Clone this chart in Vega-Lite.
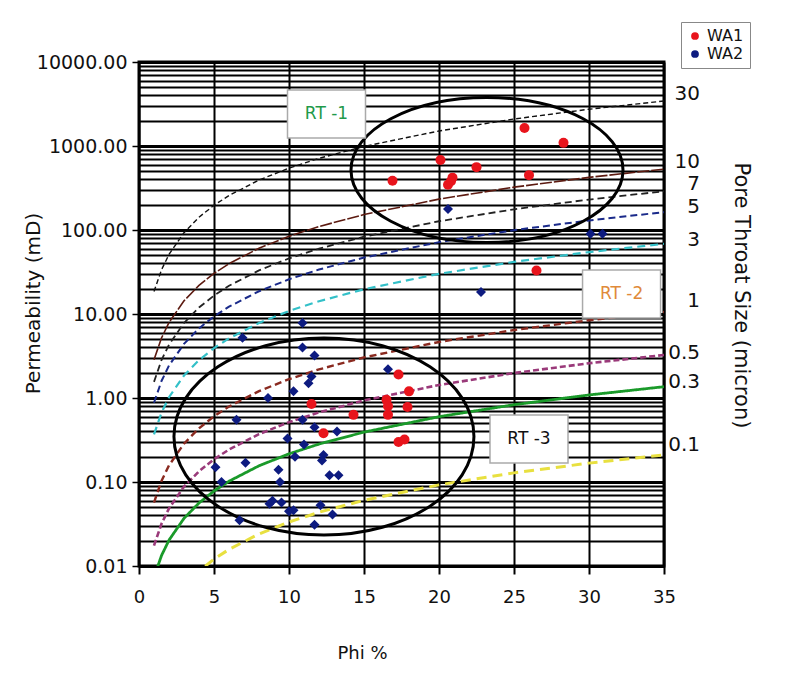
{
  "$schema": "https://vega.github.io/schema/vega-lite/v6.json",
  "width": 525,
  "height": 504,
  "autosize": {"type": "none"},
  "padding": {"left": 139, "top": 62, "right": 147, "bottom": 118},
  "background": "white",
  "config": {
    "font": "DejaVu Sans",
    "view": {"stroke": "black", "strokeWidth": 3},
    "axis": {"labelFont": "DejaVu Sans", "titleFont": "DejaVu Sans", "labelColor": "#111111", "titleColor": "#111111", "titleFontWeight": "normal"},
    "legend": {"labelFont": "DejaVu Sans"}
  },
  "datasets": {
    "curves": [
      {"r": "30", "phi": 1, "k": 18.5}, {"r": "30", "phi": 1.5, "k": 33.57}, {"r": "30", "phi": 2, "k": 51.23}, {"r": "30", "phi": 3, "k": 92.94}, {"r": "30", "phi": 4, "k": 141.9}, {"r": "30", "phi": 5, "k": 196.9}, {"r": "30", "phi": 6, "k": 257.3}, {"r": "30", "phi": 8, "k": 392.8}, {"r": "30", "phi": 10, "k": 545.3}, {"r": "30", "phi": 12, "k": 712.6}, {"r": "30", "phi": 15, "k": 989.2}, {"r": "30", "phi": 20, "k": 1510}, {"r": "30", "phi": 25, "k": 2096}, {"r": "30", "phi": 30, "k": 2740}, {"r": "30", "phi": 35, "k": 3435},
      {"r": "10", "phi": 1, "k": 2.856}, {"r": "10", "phi": 1.5, "k": 5.183}, {"r": "10", "phi": 2, "k": 7.909}, {"r": "10", "phi": 3, "k": 14.35}, {"r": "10", "phi": 4, "k": 21.9}, {"r": "10", "phi": 5, "k": 30.4}, {"r": "10", "phi": 6, "k": 39.73}, {"r": "10", "phi": 8, "k": 60.64}, {"r": "10", "phi": 10, "k": 84.17}, {"r": "10", "phi": 12, "k": 110.0}, {"r": "10", "phi": 15, "k": 152.7}, {"r": "10", "phi": 20, "k": 233.1}, {"r": "10", "phi": 25, "k": 323.6}, {"r": "10", "phi": 30, "k": 423.0}, {"r": "10", "phi": 35, "k": 530.4},
      {"r": "7", "phi": 1, "k": 1.557}, {"r": "7", "phi": 1.5, "k": 2.825}, {"r": "7", "phi": 2, "k": 4.311}, {"r": "7", "phi": 3, "k": 7.822}, {"r": "7", "phi": 4, "k": 11.94}, {"r": "7", "phi": 5, "k": 16.57}, {"r": "7", "phi": 6, "k": 21.66}, {"r": "7", "phi": 8, "k": 33.06}, {"r": "7", "phi": 10, "k": 45.89}, {"r": "7", "phi": 12, "k": 59.98}, {"r": "7", "phi": 15, "k": 83.25}, {"r": "7", "phi": 20, "k": 127.1}, {"r": "7", "phi": 25, "k": 176.4}, {"r": "7", "phi": 30, "k": 230.6}, {"r": "7", "phi": 35, "k": 289.1},
      {"r": "5", "phi": 1, "k": 0.8787}, {"r": "5", "phi": 1.5, "k": 1.594}, {"r": "5", "phi": 2, "k": 2.433}, {"r": "5", "phi": 3, "k": 4.415}, {"r": "5", "phi": 4, "k": 6.738}, {"r": "5", "phi": 5, "k": 9.352}, {"r": "5", "phi": 6, "k": 12.22}, {"r": "5", "phi": 8, "k": 18.66}, {"r": "5", "phi": 10, "k": 25.9}, {"r": "5", "phi": 12, "k": 33.85}, {"r": "5", "phi": 15, "k": 46.98}, {"r": "5", "phi": 20, "k": 71.71}, {"r": "5", "phi": 25, "k": 99.56}, {"r": "5", "phi": 30, "k": 130.1}, {"r": "5", "phi": 35, "k": 163.2},
      {"r": "3", "phi": 1, "k": 0.3686}, {"r": "3", "phi": 1.5, "k": 0.6689}, {"r": "3", "phi": 2, "k": 1.021}, {"r": "3", "phi": 3, "k": 1.852}, {"r": "3", "phi": 4, "k": 2.826}, {"r": "3", "phi": 5, "k": 3.923}, {"r": "3", "phi": 6, "k": 5.127}, {"r": "3", "phi": 8, "k": 7.826}, {"r": "3", "phi": 10, "k": 10.86}, {"r": "3", "phi": 12, "k": 14.2}, {"r": "3", "phi": 15, "k": 19.71}, {"r": "3", "phi": 20, "k": 30.08}, {"r": "3", "phi": 25, "k": 41.76}, {"r": "3", "phi": 30, "k": 54.59}, {"r": "3", "phi": 35, "k": 68.45},
      {"r": "1", "phi": 1, "k": 0.05689}, {"r": "1", "phi": 1.5, "k": 0.1032}, {"r": "1", "phi": 2, "k": 0.1575}, {"r": "1", "phi": 3, "k": 0.2858}, {"r": "1", "phi": 4, "k": 0.4362}, {"r": "1", "phi": 5, "k": 0.6055}, {"r": "1", "phi": 6, "k": 0.7913}, {"r": "1", "phi": 8, "k": 1.208}, {"r": "1", "phi": 10, "k": 1.677}, {"r": "1", "phi": 12, "k": 2.191}, {"r": "1", "phi": 15, "k": 3.042}, {"r": "1", "phi": 20, "k": 4.643}, {"r": "1", "phi": 25, "k": 6.446}, {"r": "1", "phi": 30, "k": 8.425}, {"r": "1", "phi": 35, "k": 10.56},
      {"r": "0.5", "phi": 1, "k": 0.0175}, {"r": "0.5", "phi": 1.5, "k": 0.03176}, {"r": "0.5", "phi": 2, "k": 0.04846}, {"r": "0.5", "phi": 3, "k": 0.08792}, {"r": "0.5", "phi": 4, "k": 0.1342}, {"r": "0.5", "phi": 5, "k": 0.1863}, {"r": "0.5", "phi": 6, "k": 0.2434}, {"r": "0.5", "phi": 8, "k": 0.3716}, {"r": "0.5", "phi": 10, "k": 0.5158}, {"r": "0.5", "phi": 12, "k": 0.6741}, {"r": "0.5", "phi": 15, "k": 0.9357}, {"r": "0.5", "phi": 20, "k": 1.428}, {"r": "0.5", "phi": 25, "k": 1.983}, {"r": "0.5", "phi": 30, "k": 2.592}, {"r": "0.5", "phi": 35, "k": 3.25},
      {"r": "0.3", "phi": 1, "k": 0.007341}, {"r": "0.3", "phi": 1.5, "k": 0.01332}, {"r": "0.3", "phi": 2, "k": 0.02033}, {"r": "0.3", "phi": 3, "k": 0.03688}, {"r": "0.3", "phi": 4, "k": 0.05629}, {"r": "0.3", "phi": 5, "k": 0.07813}, {"r": "0.3", "phi": 6, "k": 0.1021}, {"r": "0.3", "phi": 8, "k": 0.1559}, {"r": "0.3", "phi": 10, "k": 0.2164}, {"r": "0.3", "phi": 12, "k": 0.2828}, {"r": "0.3", "phi": 15, "k": 0.3925}, {"r": "0.3", "phi": 20, "k": 0.5991}, {"r": "0.3", "phi": 25, "k": 0.8317}, {"r": "0.3", "phi": 30, "k": 1.087}, {"r": "0.3", "phi": 35, "k": 1.363},
      {"r": "0.1", "phi": 1, "k": 0.001133}, {"r": "0.1", "phi": 1.5, "k": 0.002056}, {"r": "0.1", "phi": 2, "k": 0.003137}, {"r": "0.1", "phi": 3, "k": 0.005692}, {"r": "0.1", "phi": 4, "k": 0.008688}, {"r": "0.1", "phi": 5, "k": 0.01206}, {"r": "0.1", "phi": 6, "k": 0.01576}, {"r": "0.1", "phi": 8, "k": 0.02406}, {"r": "0.1", "phi": 10, "k": 0.03339}, {"r": "0.1", "phi": 12, "k": 0.04364}, {"r": "0.1", "phi": 15, "k": 0.06058}, {"r": "0.1", "phi": 20, "k": 0.09246}, {"r": "0.1", "phi": 25, "k": 0.1284}, {"r": "0.1", "phi": 30, "k": 0.1678}, {"r": "0.1", "phi": 35, "k": 0.2104}
    ],
    "points": [
      {"well": "WA1", "phi": 25.7, "k": 1640}, {"well": "WA1", "phi": 28.3, "k": 1090}, {"well": "WA1", "phi": 20.1, "k": 680}, {"well": "WA1", "phi": 22.5, "k": 560}, {"well": "WA1", "phi": 26.0, "k": 450}, {"well": "WA1", "phi": 16.9, "k": 385}, {"well": "WA1", "phi": 20.9, "k": 420}, {"well": "WA1", "phi": 20.6, "k": 345}, {"well": "WA1", "phi": 20.8, "k": 380}, {"well": "WA1", "phi": 26.5, "k": 33},
      {"well": "WA1", "phi": 17.3, "k": 1.9}, {"well": "WA1", "phi": 18.0, "k": 1.2}, {"well": "WA1", "phi": 16.5, "k": 0.95}, {"well": "WA1", "phi": 17.9, "k": 0.78}, {"well": "WA1", "phi": 16.6, "k": 0.63}, {"well": "WA1", "phi": 16.6, "k": 0.8}, {"well": "WA1", "phi": 14.3, "k": 0.63}, {"well": "WA1", "phi": 11.5, "k": 0.85}, {"well": "WA1", "phi": 12.3, "k": 0.38}, {"well": "WA1", "phi": 17.3, "k": 0.3}, {"well": "WA1", "phi": 17.7, "k": 0.32},
      {"well": "WA2", "phi": 6.9, "k": 5.2}, {"well": "WA2", "phi": 10.9, "k": 7.8}, {"well": "WA2", "phi": 10.9, "k": 4.0}, {"well": "WA2", "phi": 11.7, "k": 3.2}, {"well": "WA2", "phi": 11.5, "k": 1.8}, {"well": "WA2", "phi": 11.3, "k": 1.5}, {"well": "WA2", "phi": 10.3, "k": 1.2}, {"well": "WA2", "phi": 8.6, "k": 1.0}, {"well": "WA2", "phi": 6.5, "k": 0.55}, {"well": "WA2", "phi": 10.9, "k": 0.55}, {"well": "WA2", "phi": 11.7, "k": 0.45}, {"well": "WA2", "phi": 13.2, "k": 0.4}, {"well": "WA2", "phi": 9.9, "k": 0.33}, {"well": "WA2", "phi": 11.0, "k": 0.28}, {"well": "WA2", "phi": 10.4, "k": 0.2}, {"well": "WA2", "phi": 12.3, "k": 0.21}, {"well": "WA2", "phi": 12.2, "k": 0.18}, {"well": "WA2", "phi": 5.1, "k": 0.15}, {"well": "WA2", "phi": 7.1, "k": 0.17}, {"well": "WA2", "phi": 9.3, "k": 0.14}, {"well": "WA2", "phi": 9.4, "k": 0.1}, {"well": "WA2", "phi": 12.7, "k": 0.12}, {"well": "WA2", "phi": 13.3, "k": 0.12}, {"well": "WA2", "phi": 5.5, "k": 0.1}, {"well": "WA2", "phi": 8.9, "k": 0.06}, {"well": "WA2", "phi": 9.5, "k": 0.057}, {"well": "WA2", "phi": 8.7, "k": 0.055}, {"well": "WA2", "phi": 10.3, "k": 0.046}, {"well": "WA2", "phi": 10.0, "k": 0.045}, {"well": "WA2", "phi": 12.1, "k": 0.053}, {"well": "WA2", "phi": 12.9, "k": 0.041}, {"well": "WA2", "phi": 11.7, "k": 0.031}, {"well": "WA2", "phi": 6.7, "k": 0.035}, {"well": "WA2", "phi": 16.6, "k": 2.2}, {"well": "WA2", "phi": 20.6, "k": 178}, {"well": "WA2", "phi": 22.8, "k": 18.3}, {"well": "WA2", "phi": 30.1, "k": 90}, {"well": "WA2", "phi": 30.9, "k": 90}
    ],
    "zones": [
      {"label": "RT -1", "phi": 12.5, "k": 2400},
      {"label": "RT -2", "phi": 32.17, "k": 17.3},
      {"label": "RT -3", "phi": 26.0, "k": 0.325}
    ],
    "sizes": [
      {"size": "30", "phi": 35, "k": 4160},
      {"size": "10", "phi": 35, "k": 645},
      {"size": "7", "phi": 35, "k": 353},
      {"size": "5", "phi": 35, "k": 188},
      {"size": "3", "phi": 35, "k": 76},
      {"size": "1", "phi": 35, "k": 14.3},
      {"size": "0.5", "phi": 35, "k": 3.43},
      {"size": "0.3", "phi": 35, "k": 1.55},
      {"size": "0.1", "phi": 35, "k": 0.275}
    ]
  },
  "layer": [
    {
      "data": {"name": "curves"},
      "mark": {"type": "line", "clip": true},
      "encoding": {
        "x": {
          "field": "phi", "type": "quantitative",
          "scale": {"domain": [0, 35], "nice": false, "zero": false},
          "axis": {
            "values": [0, 5, 10, 15, 20, 25, 30, 35],
            "title": "Phi %",
            "grid": true, "gridColor": "black", "gridWidth": 2,
            "domain": false,
            "tickSize": 8, "tickWidth": 2, "tickColor": "black",
            "labelFontSize": 18, "labelPadding": 14, "labelFlush": false,
            "titleFontSize": 18, "titleX": 223, "titleY": 87, "titleBaseline": "middle"
          }
        },
        "y": {
          "field": "k", "type": "quantitative",
          "scale": {"type": "log", "domain": [0.01, 10000], "nice": false},
          "axis": {
            "orient": "left",
            "values": [0.01,0.02,0.03,0.04,0.05,0.06,0.07,0.08,0.09,0.1,0.2,0.3,0.4,0.5,0.6,0.7,0.8,0.9,1,2,3,4,5,6,7,8,9,10,20,30,40,50,60,70,80,90,100,200,300,400,500,600,700,800,900,1000,2000,3000,4000,5000,6000,7000,8000,9000,10000],
            "labelExpr": "abs(log(datum.value)/LN10 - round(log(datum.value)/LN10)) < 1e-6 ? format(datum.value, '.2f') : ''",
            "labelOverlap": false, "labelFlush": false,
            "grid": true, "gridColor": "black",
            "gridWidth": {"condition": {"test": "abs(log(datum.value)/LN10 - round(log(datum.value)/LN10)) < 1e-6", "value": 2.8}, "value": 1.8},
            "tickOpacity": {"condition": {"test": "abs(log(datum.value)/LN10 - round(log(datum.value)/LN10)) < 1e-6", "value": 1}, "value": 0},
            "tickSize": 7, "tickWidth": 1.5, "tickColor": "black",
            "domain": false,
            "labelFontSize": 19, "labelPadding": 5,
            "title": "Permeability (mD)", "titleFontSize": 20,
            "titleX": -106, "titleY": 241, "titleBaseline": "middle"
          }
        },
        "detail": {"field": "r", "type": "nominal"},
        "stroke": {"field": "r", "type": "nominal", "legend": null,
          "scale": {"domain": ["30","10","7","5","3","1","0.5","0.3","0.1"], "range": ["#111111","#5c1a10","#222222","#1a2a8a","#33c0c8","#8a2a20","#9a3a7a","#1a9a2a","#e8e040"]}},
        "strokeWidth": {"field": "r", "type": "nominal", "legend": null,
          "scale": {"domain": ["30","10","7","5","3","1","0.5","0.3","0.1"], "range": [1.4, 3, 1.6, 1.6, 2.2, 1.6, 1.6, 2.8, 3.2]}},
        "strokeDash": {"field": "r", "type": "nominal", "legend": null,
          "scale": {"domain": ["30","10","7","5","3","1","0.5","0.3","0.1"], "range": [[5,3],[12,2],[7,4],[7,4],[8,5],[7,4],[6,3],[1,0],[10,6]]}}
      }
    },
    {
      "data": {"values": [{"zone": "RT-1", "phi": 23.2, "k": 517.6}]},
      "mark": {"type": "point", "shape": "M-1,0A1,0.533,0,1,1,1,0A1,0.533,0,1,1,-1,0Z", "size": 73984, "filled": false, "color": "black", "strokeWidth": 3, "opacity": 1},
      "encoding": {
        "x": {"field": "phi", "type": "quantitative"},
        "y": {"field": "k", "type": "quantitative",
          "axis": {"orient": "right", "labels": false, "ticks": false, "domain": false, "grid": false,
            "title": "Pore Throat Size (micron)", "titleFontSize": 21, "titleAngle": 90,
            "titleX": 76, "titleY": 233, "titleBaseline": "middle"}}
      }
    },
    {
      "data": {"values": [{"zone": "RT-3", "phi": 12.33, "k": 0.348}]},
      "mark": {"type": "point", "shape": "M-1,0A1,0.657,0,1,1,1,0A1,0.657,0,1,1,-1,0Z", "size": 90000, "filled": false, "color": "black", "strokeWidth": 3, "opacity": 1},
      "encoding": {
        "x": {"field": "phi", "type": "quantitative"},
        "y": {"field": "k", "type": "quantitative", "axis": null}
      }
    },
    {
      "data": {"name": "points"},
      "transform": [{"filter": "datum.well === 'WA1'"}],
      "mark": {"type": "point", "filled": true, "opacity": 1, "size": 100, "shape": "circle"},
      "encoding": {
        "x": {"field": "phi", "type": "quantitative"},
        "y": {"field": "k", "type": "quantitative", "axis": null},
        "color": {"field": "well", "type": "nominal",
          "scale": {"domain": ["WA1", "WA2"], "range": ["#e8141c", "#0d1b80"]},
          "legend": {"title": null, "orient": "none", "legendX": 542, "legendY": -40,
            "symbolType": "circle", "symbolSize": 60, "labelFontSize": 16, "padding": 6, "rowPadding": 2,
            "strokeColor": "#888888", "fillColor": "white", "labelColor": "#111111"}}
      }
    },
    {
      "data": {"name": "points"},
      "transform": [{"filter": "datum.well === 'WA2'"}],
      "mark": {"type": "point", "filled": true, "opacity": 1, "size": 100, "shape": "diamond"},
      "encoding": {
        "x": {"field": "phi", "type": "quantitative"},
        "y": {"field": "k", "type": "quantitative", "axis": null},
        "color": {"field": "well", "type": "nominal"}
      }
    },
    {
      "data": {"name": "zones"},
      "mark": {"type": "point", "shape": "M-1,-0.615L1,-0.615L1,0.615L-1,0.615Z", "size": 6084, "filled": true, "fill": "white", "stroke": "#aaaaaa", "strokeWidth": 1.5, "opacity": 1},
      "encoding": {
        "x": {"field": "phi", "type": "quantitative"},
        "y": {"field": "k", "type": "quantitative", "axis": null}
      }
    },
    {
      "data": {"name": "zones"},
      "mark": {"type": "text", "fontSize": 17, "align": "center", "baseline": "middle"},
      "encoding": {
        "x": {"field": "phi", "type": "quantitative"},
        "y": {"field": "k", "type": "quantitative", "axis": null},
        "text": {"field": "label"},
        "fill": {"field": "label", "type": "nominal", "legend": null,
          "scale": {"domain": ["RT -1", "RT -2", "RT -3"], "range": ["#1f9a4a", "#e08a3a", "#111111"]}}
      }
    },
    {
      "data": {"name": "sizes"},
      "mark": {"type": "text", "fontSize": 20, "align": "right", "baseline": "middle", "dx": 36, "color": "#111111"},
      "encoding": {
        "x": {"field": "phi", "type": "quantitative"},
        "y": {"field": "k", "type": "quantitative", "axis": null},
        "text": {"field": "size"}
      }
    }
  ],
  "resolve": {"axis": {"y": "independent"}}
}
